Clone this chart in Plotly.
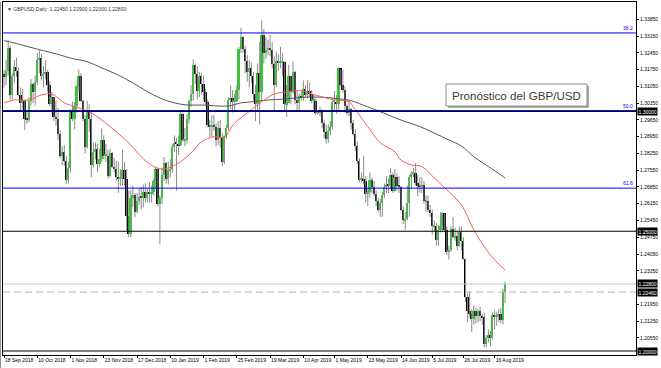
import plotly.graph_objects as go
import pandas as pd

# ---------------- data ----------------
holidays = ["2018-12-25", "2019-01-01"]
dates = [d.strftime("%Y-%m-%d") for d in pd.bdate_range("2018-09-18", "2019-08-23")
         if d.strftime("%Y-%m-%d") not in holidays]

opens = [
    # Sep 2018
    1.3155, 1.3145, 1.3170, 1.3265, 1.3070, 1.3150, 1.3185, 1.3170, 1.3070,
    # Oct 2018
    1.3035, 1.3045, 1.2970, 1.2965, 1.3045, 1.3115, 1.3080, 1.3125, 1.3215, 1.3225, 1.3150, 1.3155,
    1.3165, 1.3110, 1.3030, 1.3060, 1.2975, 1.2970, 1.2905, 1.2815, 1.2830, 1.2795, 1.2715,
    # Nov 2018
    1.2765, 1.3000, 1.2970, 1.3025, 1.3105, 1.3150, 1.3045, 1.2970, 1.2850, 1.3000, 1.2970, 1.2775,
    1.2830, 1.2845, 1.2780, 1.2800, 1.2880, 1.2815, 1.2815, 1.2730, 1.2825, 1.2770,
    # Dec 2018
    1.2760, 1.2725, 1.2720, 1.2720, 1.2755, 1.2720, 1.2565, 1.2490, 1.2640, 1.2650, 1.2580, 1.2625,
    1.2645, 1.2640, 1.2665, 1.2640, 1.2665, 1.2655, 1.2665, 1.2710,
    # Jan 2019
    1.2760, 1.2615, 1.2640, 1.2735, 1.2785, 1.2720, 1.2755, 1.2760, 1.2850, 1.2870, 1.2865, 1.2860,
    1.2990, 1.2880, 1.2880, 1.2970, 1.3045, 1.3075, 1.3195, 1.3155, 1.3085, 1.3150,
    # Feb 2019
    1.3115, 1.3080, 1.3040, 1.2945, 1.2935, 1.2945, 1.2935, 1.2880, 1.2930, 1.2890, 1.2790, 1.2895,
    1.2930, 1.3050, 1.3055, 1.3040, 1.3045, 1.3090, 1.3260, 1.3310,
    # Mar 2019
    1.3260, 1.3210, 1.3165, 1.3180, 1.3150, 1.3075, 1.3030, 1.3160, 1.3080, 1.3320, 1.3245, 1.3255,
    1.3265, 1.3255, 1.3200, 1.3110, 1.3210, 1.3205, 1.3205, 1.3205, 1.3030,
    # Apr 2019
    1.3035, 1.3150, 1.3080, 1.3165, 1.3050, 1.3035, 1.3065, 1.3055, 1.3095, 1.3070, 1.3085, 1.3075,
    1.3045, 1.3045, 1.2995, 1.2995, 1.3005, 1.2950, 1.2915, 1.2885, 1.2920, 1.2935,
    # May 2019
    1.3040, 1.3040, 1.3030, 1.3180, 1.3110, 1.3090, 1.3025, 1.2995, 1.3010, 1.2950, 1.2905, 1.2855,
    1.2795, 1.2715, 1.2720, 1.2710, 1.2655, 1.2665, 1.2715, 1.2685, 1.2655, 1.2625, 1.2590,
    # Jun 2019
    1.2620, 1.2650, 1.2685, 1.2695, 1.2690, 1.2735, 1.2670, 1.2725, 1.2690, 1.2685, 1.2590, 1.2545,
    1.2550, 1.2620, 1.2725, 1.2740, 1.2745, 1.2700, 1.2690, 1.2685,
    # Jul 2019
    1.2695, 1.2625, 1.2625, 1.2590, 1.2575, 1.2520, 1.2520, 1.2465, 1.2505, 1.2520, 1.2575, 1.2505,
    1.2415, 1.2420, 1.2510, 1.2475, 1.2480, 1.2440, 1.2495, 1.2460, 1.2385, 1.2225, 1.2165,
    # Aug 2019
    1.2155, 1.2135, 1.2165, 1.2145, 1.2165, 1.2145, 1.2140, 1.2030, 1.2055, 1.2065, 1.2055, 1.2150,
    1.2140, 1.2150, 1.2155, 1.2130, 1.2245,
]
highs = [
    1.3175, 1.3215, 1.3298, 1.3275, 1.3160, 1.3215, 1.3225, 1.3185, 1.3100,
    1.3095, 1.3050, 1.3005, 1.3060, 1.3135, 1.3120, 1.3150, 1.3245, 1.3257, 1.3240, 1.3190, 1.3215,
    1.3175, 1.3125, 1.3080, 1.3060, 1.3045, 1.3015, 1.2920, 1.2855, 1.2860, 1.2815, 1.2790,
    1.3010, 1.3040, 1.3040, 1.3110, 1.3175, 1.3160, 1.3050, 1.2985, 1.3045, 1.3030, 1.3000, 1.2870,
    1.2870, 1.2865, 1.2845, 1.2930, 1.2900, 1.2865, 1.2840, 1.2845, 1.2830, 1.2805,
    1.2795, 1.2790, 1.2760, 1.2840, 1.2790, 1.2760, 1.2670, 1.2670, 1.2690, 1.2660, 1.2660, 1.2680,
    1.2685, 1.2695, 1.2700, 1.2680, 1.2705, 1.2690, 1.2720, 1.2770,
    1.2765, 1.2650, 1.2765, 1.2810, 1.2790, 1.2790, 1.2800, 1.2865, 1.2900, 1.2890, 1.2900, 1.3000,
    1.2995, 1.2930, 1.2990, 1.3050, 1.3110, 1.3217, 1.3200, 1.3190, 1.3165, 1.3160,
    1.3150, 1.3095, 1.3050, 1.2965, 1.2985, 1.2985, 1.2950, 1.2960, 1.2965, 1.2910, 1.2900, 1.2945,
    1.3060, 1.3110, 1.3090, 1.3075, 1.3110, 1.3270, 1.3350, 1.3315,
    1.3275, 1.3235, 1.3215, 1.3205, 1.3165, 1.3110, 1.3200, 1.3290, 1.3380, 1.3345, 1.3310, 1.3300,
    1.3320, 1.3290, 1.3230, 1.3250, 1.3240, 1.3270, 1.3245, 1.3210, 1.3110,
    1.3195, 1.3150, 1.3210, 1.3170, 1.3085, 1.3075, 1.3085, 1.3130, 1.3110, 1.3130, 1.3120, 1.3090,
    1.3070, 1.3055, 1.3005, 1.3020, 1.3010, 1.2965, 1.2945, 1.2945, 1.2960, 1.3045,
    1.3085, 1.3070, 1.3185, 1.3175, 1.3175, 1.3105, 1.3030, 1.3045, 1.3015, 1.2965, 1.2925, 1.2875,
    1.2805, 1.2745, 1.2815, 1.2730, 1.2680, 1.2745, 1.2725, 1.2710, 1.2670, 1.2640, 1.2635,
    1.2665, 1.2700, 1.2730, 1.2720, 1.2765, 1.2745, 1.2760, 1.2740, 1.2730, 1.2690, 1.2605, 1.2580,
    1.2690, 1.2735, 1.2750, 1.2765, 1.2784, 1.2735, 1.2725, 1.2725,
    1.2710, 1.2650, 1.2650, 1.2610, 1.2590, 1.2545, 1.2535, 1.2525, 1.2580, 1.2580, 1.2575, 1.2520,
    1.2440, 1.2520, 1.2560, 1.2515, 1.2500, 1.2520, 1.2520, 1.2475, 1.2385, 1.2240, 1.2250,
    1.2175, 1.2190, 1.2180, 1.2175, 1.2185, 1.2155, 1.2160, 1.2065, 1.2090, 1.2085, 1.2160, 1.2170,
    1.2165, 1.2175, 1.2180, 1.2260, 1.2290,
]
lows = [
    1.3100, 1.3110, 1.3150, 1.3050, 1.3050, 1.3120, 1.3145, 1.3065, 1.3000,
    1.3010, 1.2922, 1.2950, 1.2955, 1.3025, 1.3035, 1.3025, 1.3110, 1.3160, 1.3130, 1.3100, 1.3135,
    1.3080, 1.3020, 1.2995, 1.2960, 1.2940, 1.2880, 1.2805, 1.2775, 1.2775, 1.2696, 1.2700,
    1.2745, 1.2960, 1.2925, 1.2995, 1.3085, 1.3040, 1.2960, 1.2825, 1.2845, 1.2915, 1.2725, 1.2765,
    1.2800, 1.2745, 1.2770, 1.2790, 1.2800, 1.2790, 1.2720, 1.2725, 1.2765, 1.2745,
    1.2710, 1.2660, 1.2690, 1.2690, 1.2690, 1.2505, 1.2475, 1.2475, 1.2600, 1.2560, 1.2575, 1.2610,
    1.2590, 1.2600, 1.2620, 1.2620, 1.2620, 1.2620, 1.2650, 1.2680,
    1.2605, 1.2445, 1.2615, 1.2710, 1.2700, 1.2695, 1.2725, 1.2745, 1.2830, 1.2670, 1.2820, 1.2855,
    1.2875, 1.2855, 1.2865, 1.2950, 1.3020, 1.3045, 1.3115, 1.3050, 1.3060, 1.3070,
    1.3045, 1.3025, 1.2935, 1.2895, 1.2895, 1.2920, 1.2855, 1.2860, 1.2850, 1.2773, 1.2780, 1.2885,
    1.2920, 1.3010, 1.2995, 1.3000, 1.3040, 1.3050, 1.3245, 1.3245,
    1.3160, 1.3125, 1.3100, 1.3120, 1.3045, 1.2960, 1.3000, 1.2945, 1.3040, 1.3200, 1.3220, 1.3235,
    1.3230, 1.3180, 1.3005, 1.3100, 1.3170, 1.3180, 1.3150, 1.3000, 1.2977,
    1.3035, 1.3030, 1.3075, 1.3030, 1.3005, 1.3005, 1.3045, 1.3045, 1.3060, 1.3055, 1.3060, 1.3035,
    1.3010, 1.2985, 1.2985, 1.2980, 1.2930, 1.2890, 1.2865, 1.2870, 1.2900, 1.2925,
    1.3000, 1.2990, 1.3005, 1.3105, 1.3080, 1.2995, 1.2985, 1.2980, 1.2925, 1.2900, 1.2835, 1.2780,
    1.2705, 1.2705, 1.2695, 1.2620, 1.2605, 1.2640, 1.2660, 1.2645, 1.2605, 1.2580, 1.2560,
    1.2560, 1.2640, 1.2660, 1.2660, 1.2675, 1.2660, 1.2665, 1.2670, 1.2660, 1.2585, 1.2530, 1.2506,
    1.2545, 1.2560, 1.2675, 1.2725, 1.2690, 1.2645, 1.2660, 1.2660,
    1.2615, 1.2580, 1.2580, 1.2560, 1.2485, 1.2500, 1.2440, 1.2440, 1.2495, 1.2500, 1.2495, 1.2400,
    1.2382, 1.2415, 1.2470, 1.2460, 1.2420, 1.2435, 1.2420, 1.2380, 1.2205, 1.2120, 1.2140,
    1.2080, 1.2110, 1.2115, 1.2120, 1.2125, 1.2110, 1.2015, 1.2015, 1.2035, 1.2020, 1.2050, 1.2090,
    1.2105, 1.2120, 1.2115, 1.2110, 1.2200,
]
closes = [
    1.3145, 1.3170, 1.3265, 1.3070, 1.3150, 1.3185, 1.3170, 1.3070, 1.3035,
    1.3045, 1.2970, 1.2965, 1.3045, 1.3115, 1.3080, 1.3125, 1.3215, 1.3225, 1.3150, 1.3155, 1.3165,
    1.3110, 1.3030, 1.3060, 1.2975, 1.2970, 1.2905, 1.2815, 1.2830, 1.2795, 1.2715, 1.2765,
    1.3000, 1.2970, 1.3025, 1.3105, 1.3150, 1.3045, 1.2970, 1.2850, 1.3000, 1.2970, 1.2775, 1.2830,
    1.2845, 1.2780, 1.2800, 1.2880, 1.2815, 1.2815, 1.2730, 1.2825, 1.2770, 1.2760,
    1.2725, 1.2720, 1.2720, 1.2755, 1.2720, 1.2565, 1.2490, 1.2640, 1.2650, 1.2580, 1.2625, 1.2645,
    1.2640, 1.2665, 1.2640, 1.2665, 1.2655, 1.2665, 1.2710, 1.2760,
    1.2615, 1.2640, 1.2735, 1.2785, 1.2720, 1.2755, 1.2760, 1.2850, 1.2870, 1.2865, 1.2860, 1.2990,
    1.2880, 1.2880, 1.2970, 1.3045, 1.3075, 1.3195, 1.3155, 1.3085, 1.3150, 1.3115,
    1.3080, 1.3040, 1.2945, 1.2935, 1.2945, 1.2935, 1.2880, 1.2930, 1.2890, 1.2790, 1.2895, 1.2930,
    1.3050, 1.3055, 1.3040, 1.3045, 1.3090, 1.3260, 1.3310, 1.3260,
    1.3210, 1.3165, 1.3180, 1.3150, 1.3075, 1.3030, 1.3160, 1.3080, 1.3320, 1.3245, 1.3255, 1.3265,
    1.3255, 1.3200, 1.3110, 1.3210, 1.3205, 1.3205, 1.3205, 1.3030, 1.3035,
    1.3150, 1.3080, 1.3165, 1.3050, 1.3035, 1.3065, 1.3055, 1.3095, 1.3070, 1.3085, 1.3075, 1.3045,
    1.3045, 1.2995, 1.2995, 1.3005, 1.2950, 1.2915, 1.2885, 1.2920, 1.2935, 1.3040,
    1.3040, 1.3030, 1.3180, 1.3110, 1.3090, 1.3025, 1.2995, 1.3010, 1.2950, 1.2905, 1.2855, 1.2795,
    1.2715, 1.2720, 1.2710, 1.2655, 1.2665, 1.2715, 1.2685, 1.2655, 1.2625, 1.2590, 1.2620,
    1.2650, 1.2685, 1.2695, 1.2690, 1.2735, 1.2670, 1.2725, 1.2690, 1.2685, 1.2590, 1.2545, 1.2550,
    1.2620, 1.2725, 1.2740, 1.2745, 1.2700, 1.2690, 1.2685, 1.2695,
    1.2625, 1.2625, 1.2590, 1.2575, 1.2520, 1.2520, 1.2465, 1.2505, 1.2520, 1.2575, 1.2505, 1.2415,
    1.2420, 1.2510, 1.2475, 1.2480, 1.2440, 1.2495, 1.2460, 1.2385, 1.2225, 1.2165, 1.2155,
    1.2135, 1.2165, 1.2145, 1.2165, 1.2145, 1.2140, 1.2030, 1.2055, 1.2065, 1.2055, 1.2150, 1.2140,
    1.2150, 1.2155, 1.2130, 1.2245, 1.2280,
]

# moving averages (bar index, price)
ma_slow_idx = [0, 5, 14, 19, 27, 32, 40, 47, 55, 62, 69, 75, 82, 88, 95, 103, 108, 114, 120, 127,
               135, 143, 152, 162, 167, 175, 180, 185, 191, 200, 207, 214, 220, 226, 233, 239, 241]
ma_slow_val = [1.3296, 1.3286, 1.3265, 1.3254, 1.3236, 1.3223, 1.3208, 1.3182, 1.3152, 1.3119,
               1.3083, 1.3056, 1.3036, 1.3027, 1.3027, 1.3023, 1.3023, 1.3036, 1.3041, 1.3048,
               1.3052, 1.3059, 1.3060, 1.3052, 1.3045, 1.3019, 1.3003, 1.2985, 1.2964, 1.2937,
               1.2910, 1.2881, 1.2856, 1.2811, 1.2770, 1.2735, 1.2722]
ma_fast_idx = [0, 5, 12, 18, 23, 29, 36, 42, 47, 53, 60, 66, 72, 77, 84, 90, 95, 101, 106, 111,
               117, 124, 130, 137, 143, 148, 153, 159, 166, 168, 175, 181, 188, 191, 196, 201, 207,
               212, 220, 226, 231, 236, 241]
ma_fast_val = [1.3036, 1.3048, 1.3048, 1.3069, 1.3073, 1.3036, 1.3015, 1.2994, 1.2965, 1.2923,
               1.2869, 1.2811, 1.2770, 1.2760, 1.2785, 1.2827, 1.2874, 1.2895, 1.2895, 1.2952,
               1.2994, 1.3041, 1.3073, 1.3083, 1.3087, 1.3073, 1.3061, 1.3048, 1.3041, 1.3020,
               1.2937, 1.2869, 1.2832, 1.2797, 1.2777, 1.2770, 1.2722, 1.2681, 1.2610, 1.2505,
               1.2436, 1.2380, 1.2338]

# horizontal levels
fib_levels = [1.3328, 1.3004, 1.2680]
fib_labels = ["38.2", "50.0", "61.8"]
round_levels = [1.30000, 1.25000, 1.20000]
bid_level = 1.22800
dash_level = 1.22460

x_label_dates = ["2018-09-18", "2018-10-10", "2018-11-01", "2018-11-23", "2018-12-17", "2019-01-10",
                 "2019-02-01", "2019-02-25", "2019-03-19", "2019-04-10", "2019-05-01", "2019-05-23",
                 "2019-06-14", "2019-07-05", "2019-07-26", "2019-08-16"]
x_label_text = ["18 Sep 2018", "10 Oct 2018", "1 Nov 2018", "23 Nov 2018", "17 Dec 2018", "10 Jan 2019",
                "1 Feb 2019", "25 Feb 2019", "19 Mar 2019", "10 Apr 2019", "1 May 2019", "23 May 2019",
                "14 Jun 2019", "5 Jul 2019", "26 Jul 2019", "16 Aug 2019"]
y_tick_vals = [1.33850, 1.33150, 1.32450, 1.31750, 1.31050, 1.30350, 1.29650, 1.28950, 1.28250,
               1.27550, 1.26850, 1.26150, 1.25450, 1.24750, 1.24050, 1.23350, 1.21950,
               1.21250, 1.20550]

title_text = "\u25BC GBPUSD,Daily  1.22450 1.22900 1.22000 1.22800"
box_text = "Pronóstico del GBP/USD"

# ---------------- figure ----------------
W, H = 661, 368
ML, MR, MT, MB = 3, 25, 2, 13
PW, PH = W - ML - MR, H - MT - MB

def px_x(px):
    return (px - ML) / PW

def px_y(py):
    return (H - MB - py) / PH

fig = go.Figure()

wx, wy = [], []
for d, h, l in zip(dates, highs, lows):
    wx += [d, d, None]
    wy += [l, h, None]
fig.add_trace(go.Scatter(x=wx, y=wy, mode="lines", line=dict(color="#8a8a8a", width=1),
                         hoverinfo="skip"))

bull = "#14e014"
bear = "#000000"
base = [min(o, c) for o, c in zip(opens, closes)]
height = [max(abs(c - o), 0.0004) for o, c in zip(opens, closes)]
cols = [bull if c >= o else bear for o, c in zip(opens, closes)]
fig.add_trace(go.Bar(x=dates, y=height, base=base, marker=dict(color=cols, line=dict(width=0)),
                     width=0.9))

fig.add_trace(go.Scatter(x=[dates[i] for i in ma_slow_idx], y=ma_slow_val, mode="lines",
                         line=dict(color="#555555", width=1, shape="spline")))
fig.add_trace(go.Scatter(x=[dates[i] for i in ma_fast_idx], y=ma_fast_val, mode="lines",
                         line=dict(color="#ff5a5a", width=1, shape="spline")))

shapes = []
for lv in fib_levels:
    shapes.append(dict(type="line", xref="paper", x0=0, x1=1, yref="y", y0=lv, y1=lv,
                       line=dict(color="#0000ff", width=1)))
for lv in round_levels:
    shapes.append(dict(type="line", xref="paper", x0=0, x1=1, yref="y", y0=lv, y1=lv,
                       line=dict(color="#000000", width=1)))
shapes.append(dict(type="line", xref="paper", x0=0, x1=1, yref="y", y0=bid_level, y1=bid_level,
                   line=dict(color="#c8c8c8", width=1)))
shapes.append(dict(type="line", xref="paper", x0=0, x1=1, yref="y", y0=dash_level, y1=dash_level,
                   line=dict(color="#b4b4b4", width=1, dash="7px,4px")))
# text box with shadow
bx0, bx1, by0, by1 = 446, 587, 84, 106
shapes.append(dict(type="rect", xref="paper", yref="paper", layer="above",
                   x0=px_x(bx0 + 2), x1=px_x(bx1 + 2), y0=px_y(by1 + 2), y1=px_y(by0 + 2),
                   fillcolor="#a8a8a8", line=dict(width=0)))
shapes.append(dict(type="rect", xref="paper", yref="paper", layer="above",
                   x0=px_x(bx0), x1=px_x(bx1), y0=px_y(by1), y1=px_y(by0),
                   fillcolor="white", line=dict(color="#8c8c8c", width=1)))
# outer window edge
shapes.append(dict(type="line", xref="paper", yref="paper", x0=px_x(0.5), x1=px_x(0.5), y0=px_y(H), y1=1,
                   line=dict(color="#909090", width=1)))

annotations = []
annotations.append(dict(xref="paper", yref="paper", x=px_x((bx0 + bx1) / 2), y=px_y((by0 + by1) / 2),
                        text=box_text, showarrow=False, xanchor="center", yanchor="middle",
                        font=dict(family="Liberation Sans", size=11.6, color="#3a3a3a")))
annotations.append(dict(xref="paper", yref="paper", x=px_x(5), y=1, text=title_text, showarrow=False,
                        xanchor="left", yanchor="top", yshift=-2,
                        font=dict(family="Liberation Sans", size=5, color="#333333")))
for lv, t in zip(fib_levels, fib_labels):
    annotations.append(dict(xref="paper", yref="y", x=1, y=lv, text=t, showarrow=False,
                            xanchor="right", yanchor="bottom", xshift=-1,
                            font=dict(family="Liberation Sans", size=5, color="#0000ff")))
for lv in round_levels + [bid_level, dash_level]:
    annotations.append(dict(xref="paper", yref="y", x=1, y=lv, text=f"{lv:.5f}", showarrow=False,
                            xanchor="left", yanchor="middle", xshift=1, bgcolor="#000000",
                            borderpad=0.5,
                            font=dict(family="Liberation Sans", size=5, color="#ffffff")))

fig.update_layout(
    width=W, height=H, margin=dict(l=ML, r=MR, t=MT, b=MB, autoexpand=False),
    paper_bgcolor="white", plot_bgcolor="white", showlegend=False,
    barmode="overlay", bargap=0, shapes=shapes, annotations=annotations,
    xaxis=dict(type="category", categoryorder="array", categoryarray=dates,
               range=[-0.48, 304.0], tickmode="array", tickvals=x_label_dates, ticktext=x_label_text,
               ticklabelposition="outside right", tickangle=0, ticks="outside", ticklen=2,
               tickcolor="#000", automargin=False,
               tickfont=dict(family="Liberation Sans", size=5, color="#000"),
               showgrid=False, zeroline=False, showline=True, linecolor="#000", linewidth=1,
               mirror=True, fixedrange=True),
    yaxis=dict(side="right", range=[1.19833, 1.34572], tickmode="array", tickvals=y_tick_vals,
               ticktext=[f"{v:.5f}" for v in y_tick_vals], ticks="outside", ticklen=2,
               tickcolor="#000", automargin=False,
               tickfont=dict(family="Liberation Sans", size=5, color="#000"),
               showgrid=False, zeroline=False, showline=True, linecolor="#000", linewidth=1,
               mirror=True, fixedrange=True),
)

fig.write_html("out.html", config={"displayModeBar": False})
